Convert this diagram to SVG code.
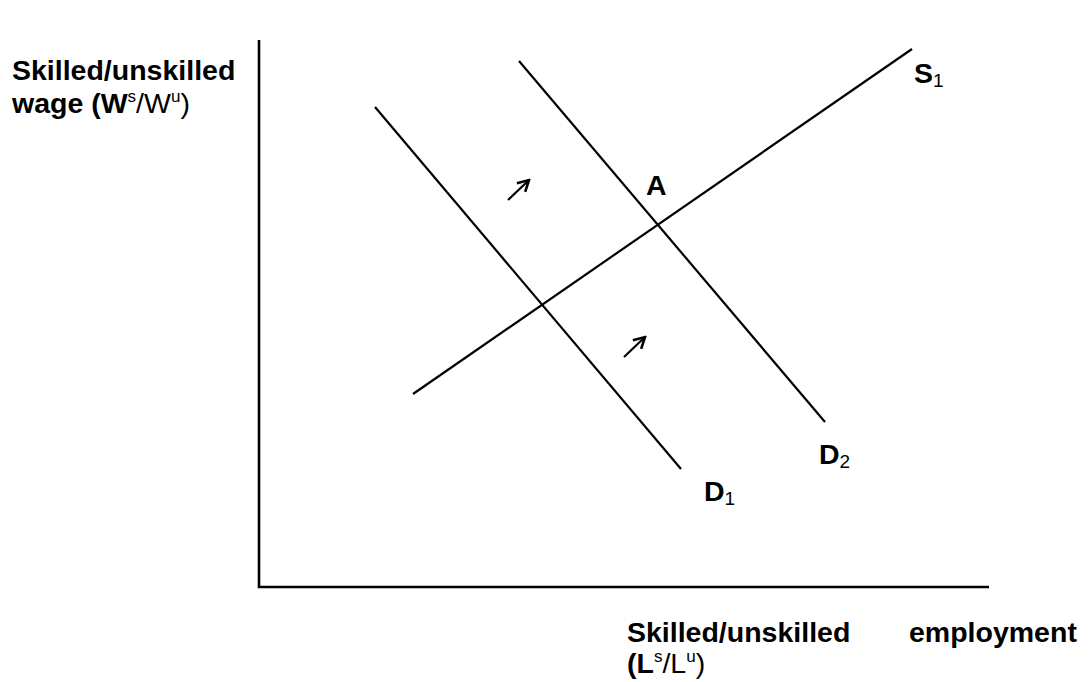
<svg xmlns="http://www.w3.org/2000/svg" width="1092" height="682" viewBox="0 0 1092 682">
<style>
text{font-family:"Liberation Sans",Arial,sans-serif;fill:#000}
.b{font-weight:bold;font-size:28.5px}
.n{font-weight:normal}
.sup{font-size:17px;font-weight:normal}
.sub{font-size:19px;font-weight:normal}
.ln{stroke:#000;stroke-width:2.2;fill:none}
.ax{stroke:#000;stroke-width:2.6;fill:none}
</style>
<defs>
<marker id="ah" viewBox="0 0 16 16" refX="14" refY="8" markerWidth="16" markerHeight="16" markerUnits="userSpaceOnUse" orient="auto">
<path d="M3,2 L14,8 L3,14" fill="none" stroke="#000" stroke-width="2.6" stroke-linejoin="miter"/>
</marker>
</defs>
<g id="axes">
<path class="ax" d="M259,40 V587 H989"/>
</g>
<g id="connectors">
<line id="D1" class="ln" x1="375" y1="107" x2="681" y2="469"/>
<line id="D2" class="ln" x1="519" y1="61" x2="825" y2="422"/>
<line id="S1" class="ln" x1="413" y1="394" x2="912" y2="49"/>
<line class="ln" x1="508" y1="200" x2="529" y2="180" stroke-width="2.5" marker-end="url(#ah)"/>
<line class="ln" x1="624" y1="357" x2="645" y2="337" stroke-width="2.5" marker-end="url(#ah)"/>
</g>
<g id="ylabel">
<text class="b" x="12" y="80">Skilled/unskilled</text>
<text class="b" x="12" y="113">wage (W<tspan class="sup" dy="-11">s</tspan><tspan class="n" dy="11">/W</tspan><tspan class="sup" dy="-11">u</tspan><tspan class="n" dy="11">)</tspan></text>
</g>
<g id="xlabel">
<text class="b" x="627" y="642">Skilled/unskilled</text>
<text class="b" x="909" y="642">employment</text>
<text class="b" x="627" y="673">(L<tspan class="sup" dy="-11">s</tspan><tspan class="n" dy="11">/L</tspan><tspan class="sup" dy="-11">u</tspan><tspan class="n" dy="11">)</tspan></text>
</g>
<g id="label-S1"><text class="b" x="914" y="83">S<tspan class="sub" dy="4">1</tspan></text></g>
<g id="label-D2"><text class="b" x="819" y="464">D<tspan class="sub" dy="4">2</tspan></text></g>
<g id="label-D1"><text class="b" x="704" y="501">D<tspan class="sub" dy="4">1</tspan></text></g>
<g id="label-A"><text class="b" x="646" y="195">A</text></g>
</svg>
